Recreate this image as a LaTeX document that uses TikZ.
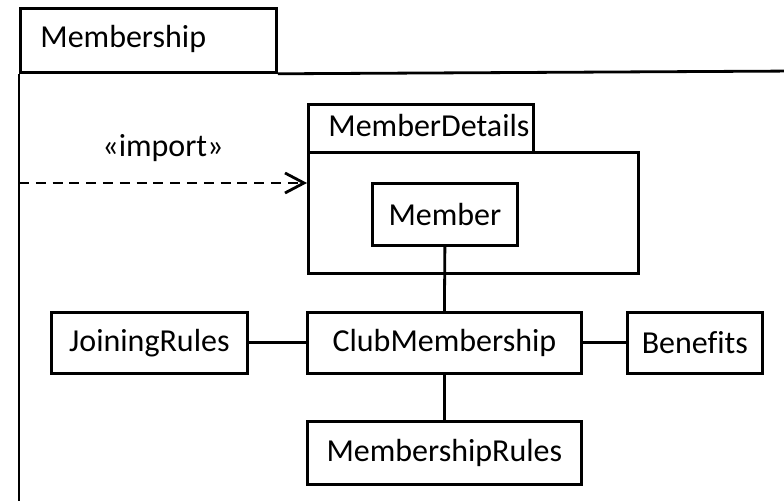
\documentclass[tikz,border=0pt]{standalone}
\usepackage{fontspec}
\setmainfont{Carlito}[Ligatures=CommonOff]
\usetikzlibrary{arrows.meta}
\begin{document}
\begin{tikzpicture}[x=0.5pt,y=-0.5pt,
  every node/.style={font=\fontsize{16pt}{19pt}\selectfont},
  box/.style={draw, line width=1.4pt, rectangle, inner sep=0pt, anchor=north west},
  lbl/.style={inner sep=0pt},
  conn/.style={line width=1.4pt},
  dep/.style={line width=1.4pt, dash pattern=on 5pt off 3.4pt, -{Straight Barb[length=9.5pt,width=10pt,line width=1.4pt]}}]
\useasboundingbox (0,0) rectangle (784,501);
\clip (0,0) rectangle (784,501);
% outer package
\node[box, minimum width=128pt, minimum height=32pt] (mtab) at (19,7) {};
\node[lbl, anchor=base west] (mtabtext) at (40,48) {Membership};
\coordinate (frameR) at (800,71);
\coordinate (frameB) at (19,520);
\draw[conn] (mtab.south east) -- (frameR);
\draw[conn] (mtab.south west) -- (frameB);
% MemberDetails package
\node[box, minimum width=112.5pt, minimum height=24pt] (mdtab) at (307,103) {};
\node[lbl, anchor=base west] (mdtabtext) at (328,137) {MemberDetails};
\node[box, minimum width=165pt, minimum height=60.5pt] (mdbody) at (307,151) {};
\node[box, minimum width=72.5pt, minimum height=31pt] (member) at (371,182) {Member};
% classes
\node[box, minimum width=137pt, minimum height=30.5pt] (club) at (306,311) {ClubMembership};
\node[box, minimum width=98pt, minimum height=30.5pt] (joining) at (50,311) {JoiningRules};
\node[box, minimum width=67.5pt, minimum height=30.5pt] (benefits) at (626,311) {Benefits};
\node[box, minimum width=137pt, minimum height=31.5pt] (mrules) at (306,420) {MembershipRules};
% connectors
\draw[conn] (member.south) -- (club.north);
\draw[conn] (joining.east) -- (club.west);
\draw[conn] (club.east) -- (benefits.west);
\draw[conn] (club.south) -- (mrules.north);
% import dependency
\coordinate (impstart) at (19,183);
\draw[dep] (impstart) -- (impstart -| mdbody.west);
\node[lbl] (implbl) at (163,148) {«import»};
\end{tikzpicture}
\end{document}
